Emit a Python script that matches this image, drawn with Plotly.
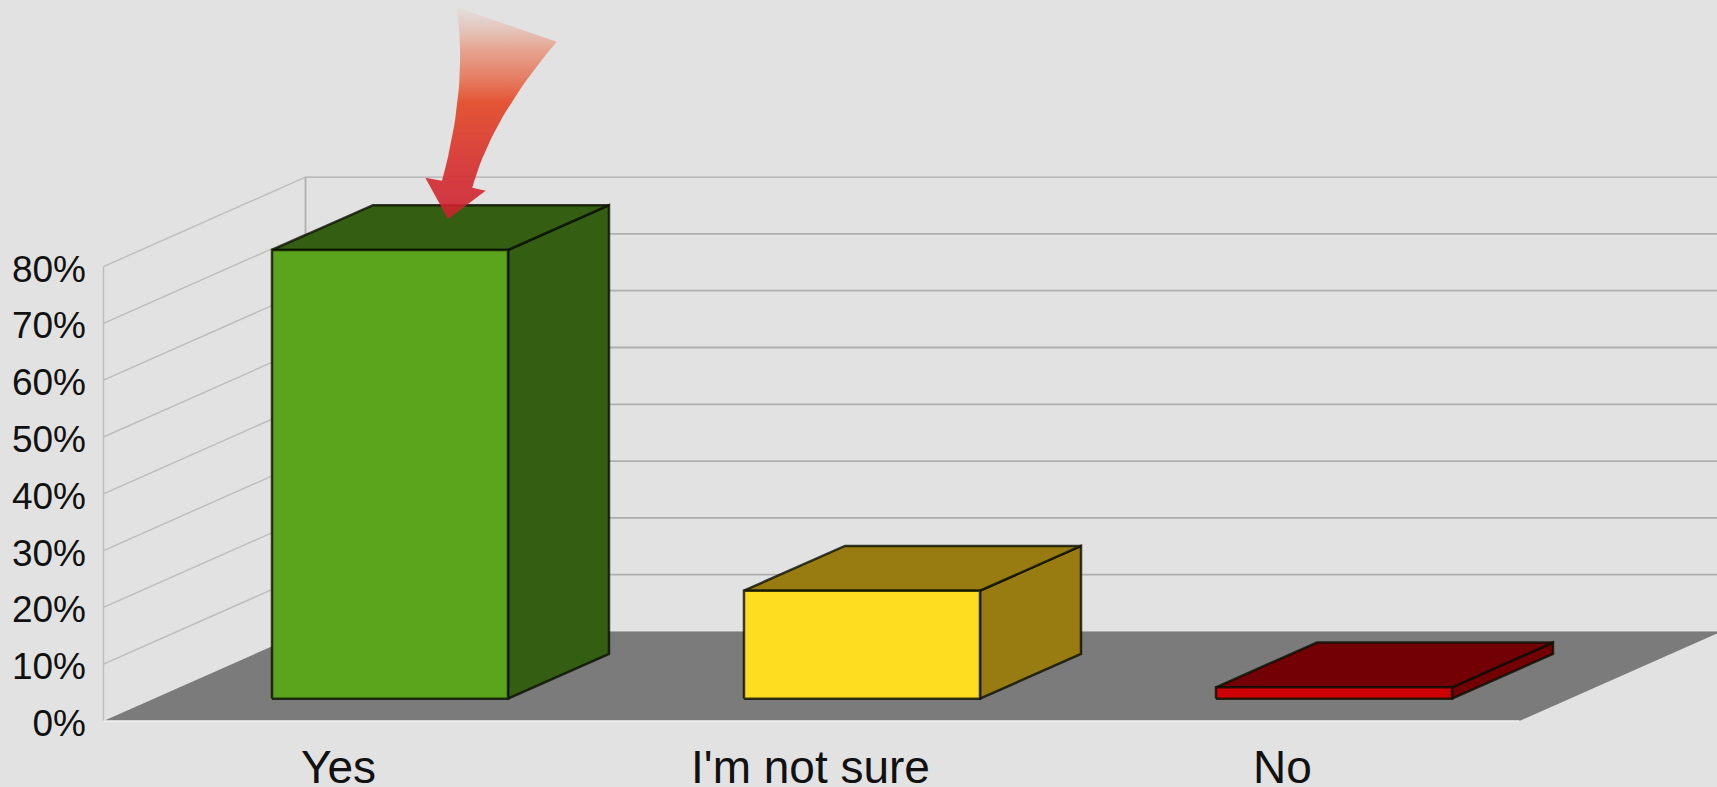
import plotly.graph_objects as go

# ---- data -------------------------------------------------------------
categories = ["Yes", "I'm not sure", "No"]
values = [79, 19, 2]
y_ticks = [0, 10, 20, 30, 40, 50, 60, 70, 80]
front_colors = ["#5BA51C", "#FEDD20", "#CC0005"]
side_colors = ["#345E11", "#987C12", "#720005"]

# ---- geometry of the oblique 3D projection, in axis units --------------
W, H = 1717, 787
X0_PX, CAT_PX = 339.5, 472.0     # pixel of category 0, pixels per category
Y0_PX, PCT_PX = 721.0, 5.68      # pixel of 0 %, pixels per percent
DEPTH_X = 202.0 / CAT_PX         # full floor depth, expressed in x units
DEPTH_Y = 89.5 / PCT_PX          # full floor depth, expressed in y units
BAR_W = 0.5
BAR_D0, BAR_D1 = 0.25, 0.75      # bar extent along the depth of the floor
X_MIN, X_MAX = -0.5, 2.5

BG = "#E2E2E2"
FLOOR = "#7B7B7B"
GRID = "#AEAEAE"
EDGE = "rgba(10,15,0,0.8)"


def proj(x, v, d=0.0):
    return x + d * DEPTH_X, v + d * DEPTH_Y


def px_x(p):
    return (p - X0_PX) / CAT_PX


def px_y(p):
    return (Y0_PX - p) / PCT_PX


fig = go.Figure()


def poly(pts, fill, line=None, width=2.5):
    xs, ys = zip(*pts)
    fig.add_trace(go.Scatter(
        x=list(xs) + [xs[0]], y=list(ys) + [ys[0]], mode="lines", fill="toself",
        fillcolor=fill, line=dict(color=line or fill, width=width if line else 0),
        hoverinfo="skip", showlegend=False))


def seg(pts, color=GRID, width=1.8):
    xs, ys = zip(*pts)
    fig.add_trace(go.Scatter(x=list(xs), y=list(ys), mode="lines",
                             line=dict(color=color, width=width),
                             hoverinfo="skip", showlegend=False))


# floor
poly([proj(X_MIN, 0), proj(X_MAX, 0), proj(X_MAX, 0, 1), proj(X_MIN, 0, 1)], FLOOR)

# walls and grid
top = y_ticks[-1]
right_end = proj(X_MAX, 0, 1)[0]
for t in y_ticks:
    w = 1.2 if t == top else 1.8
    if t > 0:
        seg([proj(X_MIN, t), proj(X_MIN, t, 1)], "#BDBDBD", 1.4)
        seg([proj(X_MIN, t, 1), (right_end, proj(X_MIN, t, 1)[1])], GRID, w)
seg([proj(X_MIN, 0), proj(X_MIN, top)], "#BDBDBD", 1.4)
seg([proj(X_MIN, 0, 1), proj(X_MIN, top, 1)], "#B0B0B0", 1.8)
seg([proj(X_MIN, 0), proj(X_MAX, 0)], "#F2F2F2", 1.5)
seg([proj(X_MIN, 0, 1), (right_end, proj(X_MIN, 0, 1)[1])], "#A8A8A8", 1.2)

# bars
for i, v in enumerate(values):
    l, r = i - BAR_W / 2, i + BAR_W / 2
    poly([proj(r, 0, BAR_D0), proj(r, 0, BAR_D1), proj(r, v, BAR_D1), proj(r, v, BAR_D0)],
         side_colors[i], EDGE)
    poly([proj(l, v, BAR_D0), proj(r, v, BAR_D0), proj(r, v, BAR_D1), proj(l, v, BAR_D1)],
         side_colors[i], EDGE)
    poly([proj(l, 0, BAR_D0), proj(r, 0, BAR_D0), proj(r, v, BAR_D0), proj(l, v, BAR_D0)],
         front_colors[i], EDGE)


# decorative pointer over the winning bar (picture overlay, page pixels)
def curve(a, c, b, n=24):
    out = []
    for k in range(n + 1):
        t = k / n
        out.append(((1 - t) ** 2 * a[0] + 2 * t * (1 - t) * c[0] + t ** 2 * b[0],
                    (1 - t) ** 2 * a[1] + 2 * t * (1 - t) * c[1] + t ** 2 * b[1]))
    return out


arrow_px = (curve((456.7, 7.3), (468, 86), (442, 180.7))
            + [(425.3, 177.7), (448, 219), (485.7, 190.7)]
            + curve((472.3, 187.7), (491, 119), (556.7, 41.7)))
ax = [px_x(p[0]) for p in arrow_px]
ay = [px_y(p[1]) for p in arrow_px]
fig.add_trace(go.Scatter(
    x=ax + [ax[0]], y=ay + [ay[0]], mode="lines", fill="toself", line=dict(width=0),
    fillgradient=dict(type="vertical", start=px_y(219), stop=px_y(7),
                      colorscale=[[0.0, "rgba(205,30,45,0.88)"],
                                  [0.2, "rgba(212,48,52,0.93)"],
                                  [0.55, "rgba(228,82,50,0.98)"],
                                  [0.8, "rgba(232,130,100,0.65)"],
                                  [1.0, "rgba(232,170,150,0.08)"]]),
    hoverinfo="skip", showlegend=False))

fig.update_layout(
    width=W, height=H, autosize=False,
    margin=dict(l=0, r=0, t=0, b=0),
    paper_bgcolor=BG, plot_bgcolor=BG,
    showlegend=False,
    font=dict(family="Liberation Sans, Arial, sans-serif", color="#111111"),
    xaxis=dict(range=[px_x(0), px_x(W)], tickmode="array", tickvals=[0, 1, 2],
               ticktext=categories, showgrid=False, zeroline=False, showline=False,
               ticks="", tickfont=dict(size=46), anchor="free", automargin=False,
               position=1 - Y0_PX / H, ticklabelstandoff=15, ticklabelshift=-1),
    yaxis=dict(range=[px_y(H), px_y(0)], tickmode="array", tickvals=y_ticks,
               ticktext=[f"{t}%" for t in y_ticks], showgrid=False, zeroline=False,
               showline=False, ticks="", tickfont=dict(size=37), anchor="free",
               automargin=False, position=104 / W, ticklabelstandoff=18,
               ticklabelshift=2),
)

fig.write_html(
    "out.html",
    config=dict(displayModeBar=False),
    post_script="document.body.style.margin='0';"
                "document.documentElement.style.overflow='hidden';",
)
